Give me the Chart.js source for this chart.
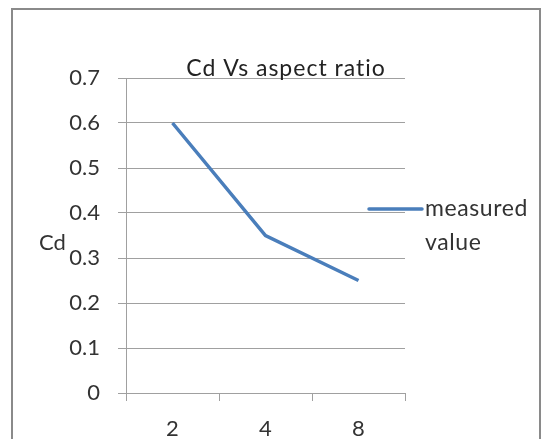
<!DOCTYPE html>
<html>
<head>
<meta charset="utf-8">
<script src="https://cdn.jsdelivr.net/npm/chart.js@4"></script>
<style>
  html, body { margin: 0; padding: 0; background: #ffffff; }
  #wrap { position: relative; width: 552px; height: 439px; overflow: hidden; background: #fff; }
  #frame { position: absolute; left: 11px; top: 8px; width: 526px; height: 460px;
           border: 2px solid #8a8a8a; box-sizing: content-box; }
  canvas { position: absolute; left: 0; top: 0; }
</style>
</head>
<body>
<div id="wrap">
  <div id="frame"></div>
  <canvas id="c" width="552" height="439"></canvas>
</div>
<script>
// Aspect ratio categories and measured drag coefficients
const aspectRatios = ['2', '4', '8'];
const measuredCd = [0.6, 0.35, 0.25];
const yTicks = [0, 0.1, 0.2, 0.3, 0.4, 0.5, 0.6, 0.7];

const chartTitle = 'Cd Vs aspect ratio';
const yTitle = 'Cd';
const seriesName = ['measured', 'value'];

const FONT = 'Lato, "Open Sans", sans-serif';
const TEXT = '#333333';
const GRID = '#a0a0a0';
const LINE = '#4a7ebb';

// Title, vertical axis caption and right-hand legend
const decorations = {
  id: 'decorations',
  afterDraw(chart) {
    const ctx = chart.ctx;
    ctx.save();
    ctx.fillStyle = '#222222';
    ctx.font = '23px ' + FONT;
    ctx.letterSpacing = '1px';
    ctx.textAlign = 'center';
    ctx.textBaseline = 'alphabetic';
    ctx.fillText(chartTitle, 286, 76);

    ctx.letterSpacing = '0px';
    ctx.fillStyle = TEXT;
    ctx.font = '22px ' + FONT;
    ctx.textAlign = 'left';
    ctx.textBaseline = 'middle';
    ctx.fillText(yTitle, 39, 243);

    // legend entry
    const ds = chart.data.datasets[0];
    const ly = chart.scales.y.getPixelForValue(0.4) - 4;
    ctx.strokeStyle = ds.borderColor;
    ctx.lineWidth = 3.5;
    ctx.lineCap = 'round';
    ctx.beginPath();
    ctx.moveTo(369, ly);
    ctx.lineTo(422, ly);
    ctx.stroke();
    ctx.fillStyle = TEXT;
    ctx.font = '23px ' + FONT;
    ctx.letterSpacing = '0.6px';
    ctx.fillText(seriesName[0], 425, ly);
    ctx.fillText(seriesName[1], 425, ly + 34);
    ctx.restore();
  }
};

new Chart(document.getElementById('c'), {
  type: 'line',
  data: {
    labels: aspectRatios,
    datasets: [{
      label: seriesName.join(' '),
      data: measuredCd,
      borderColor: LINE,
      backgroundColor: LINE,
      borderWidth: 3.5,
      pointRadius: 0,
      tension: 0,
      fill: false
    }]
  },
  options: {
    responsive: false,
    animation: false,
    devicePixelRatio: 1,
    layout: { padding: { left: 0, top: 78, right: 147, bottom: 0 } },
    plugins: {
      legend: { display: false },
      title: { display: false },
      tooltip: { enabled: false }
    },
    scales: {
      x: {
        type: 'category',
        offset: true,
        grid: {
          offset: true,
          drawOnChartArea: false,
          color: GRID,
          tickLength: 8,
          lineWidth: 1
        },
        border: { color: GRID, width: 1 },
        ticks: { color: TEXT, font: { family: FONT, size: 22 }, padding: 15, maxRotation: 0 },
        afterFit(scale) { scale.height = 46; }
      },
      y: {
        min: 0,
        max: 0.7,
        afterBuildTicks(scale) { scale.ticks = yTicks.map(v => ({ value: v })); },
        grid: { color: GRID, tickLength: 8, lineWidth: 1 },
        border: { color: GRID, width: 1 },
        ticks: {
          color: TEXT,
          font: { family: FONT, size: 22 },
          padding: 18,
          callback: v => String(Math.round(v * 10) / 10)
        },
        afterFit(scale) { scale.width = 126; }
      }
    }
  },
  plugins: [decorations]
});
</script>
</body>
</html>
